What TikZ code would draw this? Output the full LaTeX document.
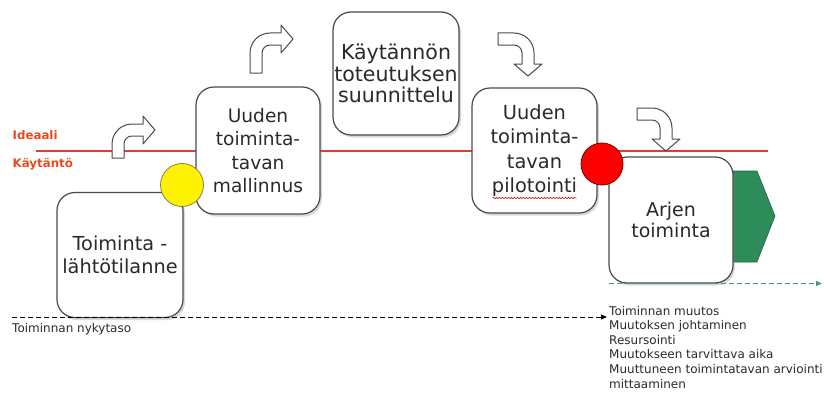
\documentclass[tikz,border=0pt]{standalone}
\usepackage{fontspec}
\setmainfont{DejaVu Sans}
\usetikzlibrary{shadows,decorations.pathmorphing,arrows.meta}

\definecolor{boxline}{HTML}{4A4A4A}
\definecolor{levelred}{HTML}{E8393A}
\definecolor{labelred}{HTML}{E84A1E}
\definecolor{leafgreen}{HTML}{2E8B5A}
\definecolor{dashgreen}{HTML}{3E9E6E}
\definecolor{bodytext}{HTML}{2A2A2A}

\newcommand\sizedfont[2]{\fontsize{#1}{#2}\selectfont}

\tikzset{
  stage/.style={draw=boxline, line width=1.2pt, fill=white, rounded corners=18pt,
    minimum width=126pt, minimum height=125pt, inner sep=0pt, align=center,
    text=bodytext,
    drop shadow={shadow xshift=2pt, shadow yshift=-2.5pt, opacity=0.3}},
  turnarrow/.style={draw=boxline, line width=1pt, fill=white, line join=round},
  % bent arrow: stem rises from (0,0), turns right, head points right
  turn/.pic={\path[turnarrow] (0,0) -- (0,#1)
      arc[start angle=180, end angle=90, radius=20] -- (31,#1+20)
      -- (31,#1+28) -- (43,#1+14) -- (31,#1) -- (31,#1+8) -- (20,#1+8)
      arc[start angle=90, end angle=180, radius=8] -- (12,0) -- cycle;},
  levellabel/.style={anchor=base west, inner sep=0pt, text=labelred,
    font=\bfseries\sizedfont{11.8}{14}},
  smalltext/.style={anchor=base west, inner sep=0pt, text=bodytext,
    font=\sizedfont{12}{14}},
  gate/.style={circle, inner sep=0pt, line width=0.8pt},
  levelarrow/.style={line width=1pt, dash pattern=on 5pt off 3pt,
    -{Triangle[length=6pt, width=5pt]}}
}

\begin{document}
\begin{tikzpicture}[x=1pt, y=1pt]
\useasboundingbox (0,0) rectangle (824,392);

% ideal / practice level
\coordinate (lvlstart) at (36,241);
\coordinate (lvlend) at (768,241);
\draw[levelred, line width=1.6pt] (lvlstart) -- (lvlend);

% continuation arrow behind the last stage
\path[fill=leafgreen, draw=leafgreen!75!black, line width=0.6pt]
  (715,221) -- (757,221) -- (775,176) -- (757,130) -- (715,130) -- cycle;

% stages
\node[stage, font=\sizedfont{19.3}{23}] (start) at (120,137)
  {Toiminta -\\lähtötilanne};
\node[stage, minimum width=124pt, minimum height=127pt, font=\sizedfont{18.6}{23.3}]
  (model) at (258,241.5) {Uuden\\toiminta-\\tavan\\mallinnus};
\node[stage, minimum height=123pt, font=\sizedfont{20.5}{21.5}]
  (plan) at (396,318.5) {Käytännön\\toteutuksen\\suunnittelu};
\node[stage, minimum width=125pt, font=\sizedfont{19.4}{24.4}]
  (pilot) at (534.5,241.5) {Uuden\\toiminta-\\tavan\\pilotointi};
\node[stage, minimum width=124pt, minimum height=126pt, font=\sizedfont{19}{21}]
  (daily) at (671,172) {Arjen\\toiminta};

% current level of operation, running along the first stage's lower edge
\coordinate (nowstart) at (12,75);
\coordinate (nowend) at (607,75);
\draw[levelarrow, black] (nowstart) -- (nowend);

% new level of operation, along the last stage's lower edge
\coordinate (newstart) at (609,108.5);
\coordinate (newend) at (822,108.5);
\draw[levelarrow, dashgreen] (newstart) -- (newend);

% spelling mark under the last word of the pilot stage
\draw[red!80!black, line width=0.5pt, decorate,
      decoration={snake, amplitude=0.7pt, segment length=3pt}]
  ([xshift=-42pt, yshift=-47.5pt]pilot.center) -- ([xshift=42pt, yshift=-47.5pt]pilot.center);

% decision points
\node[gate, minimum size=43pt, fill=yellow, draw=black!55!yellow] (gate1) at (182,207) {};
\node[gate, minimum size=42pt, fill=red, draw=red!45!black] (gate2) at (602,228) {};

% step arrows
\pic at (112,234) {turn=14};
\pic at (250,319) {turn=20};
\pic[rotate=-90] at (498,359) {turn=16};
\pic[rotate=-90] at (637,284) {turn=15};

% level labels
\node[levellabel] (ideal) at (12.5,253) {Ideaali};
\node[levellabel] (practice) at (12.5,225) {Käytäntö};
\node[smalltext] (nowlabel) at (12,59.5) {Toiminnan nykytaso};

% topics of the change
\foreach \txt [count=\i] in {Toiminnan muutos, Muutoksen johtaminen, Resursointi,
    Muutokseen tarvittava aika, Muuttuneen toimintatavan arviointi, mittaaminen}
  \node[smalltext] (topic\i) at (609, 392-315-14.6*\i+14.6) {\txt};
\end{tikzpicture}
\end{document}
